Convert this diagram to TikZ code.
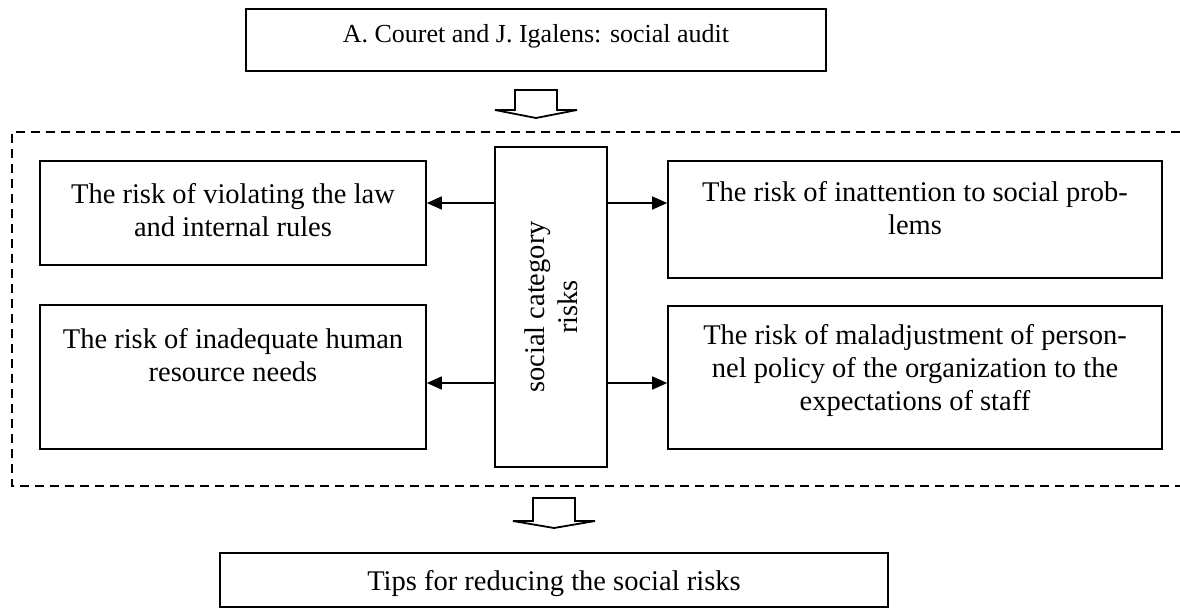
\documentclass[tikz,border=0pt]{standalone}
\usepackage{fontspec}
\setmainfont{Liberation Serif}
\usetikzlibrary{arrows.meta}
\begin{document}
\begin{tikzpicture}[x=1pt,y=-1pt]
\tikzset{
  box/.style={draw, line width=1.6pt, fill=white, inner sep=0pt},
  txt/.style={font=\fontsize{28.5}{33}\selectfont, align=center, inner sep=0pt, anchor=north},
  linetxt/.style={font=\fontsize{28.5}{33}\selectfont, inner sep=0pt, anchor=base},
  conn/.style={line width=1.4pt, -{Triangle[length=15pt,width=13pt]}},
  hollow/.style={draw, line width=1.8pt, line join=miter, fill=white},
  frame/.style={line width=1.6pt, dash pattern=on 9pt off 6pt}
}
\fill[white] (0,0) rectangle (1180,610);
\useasboundingbox (0,0) rectangle (1180,610);

% source box
\node[box, minimum width=580pt, minimum height=62pt] (src) at (536,40) {};
\node[linetxt, font=\fontsize{26}{30}\selectfont] (srctext) at (536,43) {A. Couret and J. Igalens: social audit};

% block arrow into the frame
\coordinate (down1) at (536,90);
\draw[hollow] (down1) ++(-21,0) -- ++(0,20) -- ++(-20,0) -- ++(41,8) -- ++(41,-8) -- ++(-20,0) -- ++(0,-20) -- cycle;

% dashed frame
\draw[frame] (1180,132) -- (12,132) -- (12,486) -- (1180,486);

% central category box
\node[box, minimum width=112pt, minimum height=320pt] (cat) at (551,307) {};
\node[rotate=90, align=center, inner sep=0pt, font=\fontsize{28.5}{33}\selectfont] (cattext) at (551,307) {social category\\risks};

% risk boxes
\node[box, minimum width=386pt, minimum height=104pt] (law) at (233,213) {};
\node[txt] (lawtext) at (233,179.9) {\strut The risk of violating the law\\and internal rules};

\node[box, minimum width=494pt, minimum height=117pt] (att) at (915,219.5) {};
\node[txt] (atttext) at (915,177.9) {\strut The risk of inattention to social prob-\\lems};

\node[box, minimum width=386pt, minimum height=144pt] (hr) at (233,377) {};
\node[txt] (hrtext) at (233,324.9) {\strut The risk of inadequate human\\resource needs};

\node[box, minimum width=494pt, minimum height=143pt] (pol) at (915,377.5) {};
\node[txt] (poltext) at (915,320.9) {\strut The risk of maladjustment of person-\\nel policy of the organization to the\\expectations of staff};

% connectors
\coordinate (row1) at (0,203);
\coordinate (row2) at (0,383);
\draw[conn] (cat.west |- row1) -- (law.east |- row1);
\draw[conn] (cat.east |- row1) -- (att.west |- row1);
\draw[conn] (cat.west |- row2) -- (hr.east |- row2);
\draw[conn] (cat.east |- row2) -- (pol.west |- row2);

% block arrow out of the frame
\coordinate (down2) at (554,498);
\draw[hollow] (down2) ++(-21,0) -- ++(0,23) -- ++(-20,0) -- ++(41,7) -- ++(41,-7) -- ++(-20,0) -- ++(0,-23) -- cycle;

% result box
\node[box, minimum width=668pt, minimum height=54pt] (tips) at (554,580) {};
\node[linetxt] (tipstext) at (554,590) {Tips for reducing the social risks};
\end{tikzpicture}
\end{document}
